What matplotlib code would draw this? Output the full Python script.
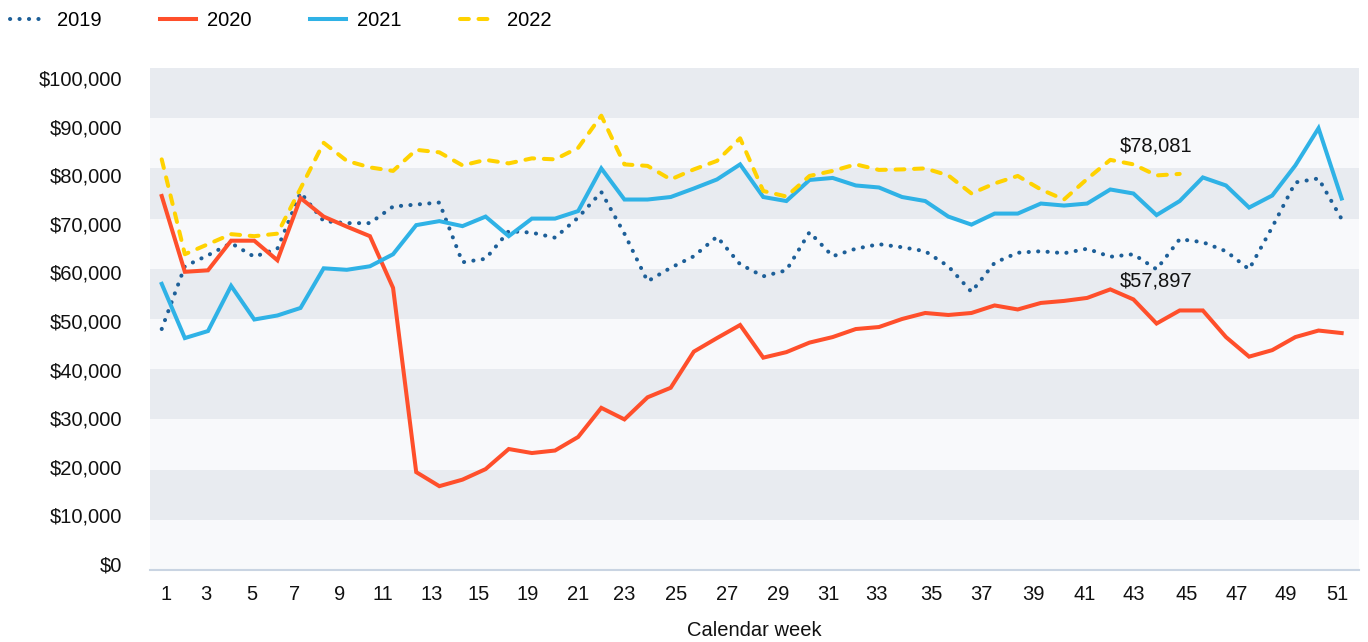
import matplotlib
matplotlib.use("Agg")
from matplotlib import pyplot as plt
import numpy as np

plt.rcParams['font.family'] = ['Liberation Sans', 'DejaVu Sans']

# Weekly values in thousands of dollars (52 weeks)
sales_2019 = [48.0, 60.5, 62.7, 65.1, 62.4, 64.0, 75.2, 69.5, 69.1, 69.1,
              72.4, 72.8, 73.2, 61.3, 62.0, 67.5, 67.2, 66.2, 70.2, 75.3,
              67.0, 57.5, 60.2, 62.5, 66.4, 60.9, 58.5, 59.7, 67.3, 62.5,
              64.0, 64.9, 64.3, 63.5, 60.5, 55.4, 61.2, 63.2, 63.5, 63.1,
              64.0, 62.4, 62.9, 59.9, 65.9, 65.3, 63.5, 59.9, 68.3, 77.2,
              78.0, 69.9]
sales_2020 = [74.5, 59.4, 59.7, 65.6, 65.6, 61.7, 74.1, 70.4, 68.4, 66.5,
              56.2, 19.5, 16.7, 18.0, 20.1, 24.1, 23.3, 23.8, 26.5, 32.3,
              30.0, 34.4, 36.3, 43.5, 46.2, 48.8, 42.3, 43.4, 45.3, 46.4,
              48.0, 48.4, 50.0, 51.2, 50.8, 51.2, 52.7, 51.9, 53.2, 53.6,
              54.2, 55.9, 53.9, 49.1, 51.7, 51.7, 46.4, 42.5, 43.8, 46.4,
              47.7, 47.2]
sales_2021 = [57.0, 46.2, 47.6, 56.6, 49.9, 50.7, 52.2, 60.1, 59.8, 60.5,
              62.9, 68.7, 69.5, 68.5, 70.4, 66.5, 70.0, 70.0, 71.5, 80.0,
              73.8, 73.8, 74.3, 76.0, 77.8, 80.8, 74.3, 73.5, 77.7, 78.1,
              76.6, 76.2, 74.3, 73.5, 70.4, 68.8, 71.0, 71.0, 73.0, 72.6,
              73.0, 75.8, 75.0, 70.7, 73.5, 78.2, 76.6, 72.2, 74.6, 80.6,
              88.0, 74.0]
sales_2022 = [81.8, 62.9, 64.9, 66.9, 66.5, 67.0, 76.0, 85.1, 81.5, 80.2,
              79.5, 83.7, 83.2, 80.6, 81.7, 81.0, 82.0, 81.8, 84.1, 90.5,
              80.8, 80.5, 77.8, 79.8, 81.5, 86.0, 75.5, 74.4, 78.5, 79.5,
              80.8, 79.7, 79.8, 80.0, 78.6, 75.0, 77.0, 78.5, 75.8, 73.8,
              77.9, 81.7, 80.8, 78.6, 78.9]

week_labels = ['1', '3', '5', '7', '9', '11', '13', '15', '19', '21', '23',
               '25', '27', '29', '31', '33', '35', '37', '39', '41', '43',
               '45', '47', '49', '51']
y_labels = ['$0', '$10,000', '$20,000', '$30,000', '$40,000', '$50,000',
            '$60,000', '$70,000', '$80,000', '$90,000', '$100,000']
annotations = [('$78,081', 43, 84500), ('$57,897', 43, 57600)]

# where the week labels sit along the axis (as drawn in the original)
week_tick_pos = [0.2, 1.9, 3.9, 5.75, 7.7, 9.55, 11.65, 13.7, 15.8, 18.0,
                 20.0, 22.25, 24.45, 26.65, 28.8, 30.9, 33.25, 35.45, 37.7,
                 39.9, 42.0, 44.3, 46.45, 48.6, 50.8]

fig = plt.figure(figsize=(13.68, 6.42), dpi=100)
ax = fig.add_axes([150 / 1368, 1 - 570 / 642, 1209 / 1368, 502 / 642])

# alternating horizontal bands
for k, lo in enumerate(range(0, 100000, 10000)):
    ax.axhspan(lo, lo + 10000, color='#f8f9fb' if k % 2 == 0 else '#e8ebf0',
               lw=0, zorder=0)

def plot_year(vals, **kw):
    v = np.array(vals) * 1000
    return ax.plot(np.arange(len(v)), v, lw=2.9, zorder=3, **kw)[0]

l19 = plot_year(sales_2019, color='#1d5f98', linestyle=(0, (0.05, 2.3)),
                dash_capstyle='round', label='2019')
l20 = plot_year(sales_2020, color='#ff4f2b', solid_joinstyle='miter', label='2020')
l21 = plot_year(sales_2021, color='#2fb2e6', solid_joinstyle='miter', label='2021')
l22 = plot_year(sales_2022, color='#ffd200', linestyle=(0, (2.2, 2.4)),
                dash_capstyle='round', label='2022')

for txt, x, y in annotations:
    ax.text(x, y, txt, ha='center', va='center', fontsize=14.5, color='#111111', zorder=5)

ax.set_xlim(-0.506, 51.75)
ax.set_ylim(0, 100000)

ax.set_xticks(week_tick_pos)
ax.set_xticklabels(week_labels)
ax.set_yticks(np.linspace(1200, 98000, len(y_labels)))
ax.set_yticklabels(y_labels)
ax.tick_params(axis='both', length=0, labelsize=14.5, colors='#111111')
ax.tick_params(axis='x', pad=11)
ax.tick_params(axis='y', pad=20)
ax.set_xlabel('Calendar week', fontsize=14.5, color='#111111', labelpad=12)

for s in ['top', 'right', 'left']:
    ax.spines[s].set_visible(False)
ax.spines['bottom'].set_color('#c9d4e2')
ax.spines['bottom'].set_linewidth(1.5)

fig.legend(handles=[l19, l20, l21, l22], loc='upper left', bbox_to_anchor=(-0.003, 1.005),
           ncol=4, frameon=False, fontsize=14.5, handlelength=1.78,
           handletextpad=0.55, columnspacing=2.9, borderaxespad=0.3)

fig.savefig('out.png', dpi=100)
